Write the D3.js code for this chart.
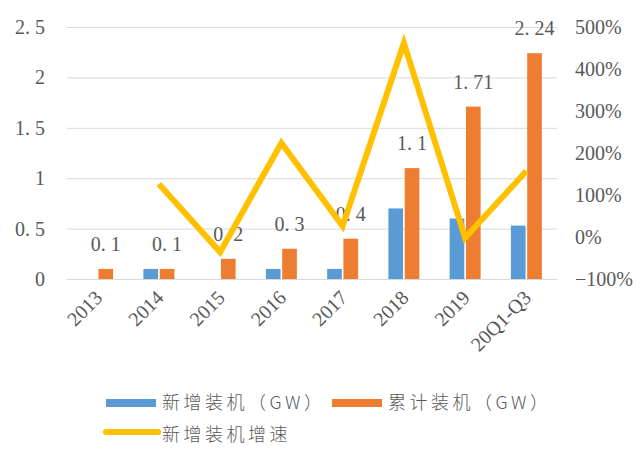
<!DOCTYPE html>
<html><head><meta charset="utf-8">
<script src="https://cdn.jsdelivr.net/npm/d3@7"></script>
<style>body{margin:0;background:#fff}svg{display:block}</style>
</head><body>
<svg id="c" width="640" height="462"></svg>
<script>
const categories = ["2013","2014","2015","2016","2017","2018","2019","20Q1-Q3"];
const newInstalled = [0, 0.1, 0, 0.1, 0.1, 0.7, 0.6, 0.53];
const cumInstalled = [0.1, 0.1, 0.2, 0.3, 0.4, 1.1, 1.71, 2.24];
const growth = [null, 1.26, -0.36, 2.24, 0.26, 4.62, -0.02, 1.57];
const leftTicks = [0, 0.5, 1, 1.5, 2, 2.5];
const rightTicks = [-1, 0, 1, 2, 3, 4, 5];
const seriesNames = ["新增装机（GW）", "累计装机（GW）", "新增装机增速"];
const colors = ["#5B9BD5", "#ED7D31", "#FFC000"];

const svg = d3.select("#c");
const X0 = 67, X1 = 557, YT = 27, YB = 279;
const numFont = "'Liberation Serif', 'DejaVu Serif', serif";
const cjkFont = "'Noto Sans CJK SC', sans-serif";
const txt = "#595959";

const x = d3.scaleBand().domain(categories).range([X0, X1]).paddingInner(0.494).paddingOuter(0.247);
const xs = d3.scaleBand().domain([0, 1]).range([0, x.bandwidth()]).paddingInner(0.1);
const yL = d3.scaleLinear().domain([0, 2.5]).range([YB, YT]);
const yR = d3.scaleLinear().domain([-1, 5]).range([YB, YT]);

// gridlines
const grid = svg.append("g").attr("transform", `translate(${X0},0)`)
  .call(d3.axisLeft(yL).tickValues(leftTicks).tickSize(-(X1 - X0)).tickFormat(""));
grid.select(".domain").remove();
grid.selectAll("line").attr("stroke", "#d9d9d9").attr("stroke-width", 1);

const fmtDot = (g, v) => {
  const s = String(v);
  const i = s.indexOf(".");
  if (i < 0) { g.text(s); return; }
  g.text(s.slice(0, i + 1));
  g.append("tspan").attr("dx", 5).text(s.slice(i + 1));
};

// left axis labels
const la = svg.append("g").attr("transform", `translate(${X0},0)`)
  .call(d3.axisLeft(yL).tickValues(leftTicks).tickSize(0).tickPadding(22).tickFormat(""));
la.select(".domain").remove();
la.selectAll(".tick text").each(function(d){ fmtDot(d3.select(this), d); })
  .attr("font-family", numFont).attr("font-size", 20).attr("fill", txt);

// right axis labels
const ra = svg.append("g").attr("transform", `translate(${X1},0)`)
  .call(d3.axisRight(yR).tickValues(rightTicks).tickSize(0).tickPadding(18).tickFormat(d3.format(".0%")));
ra.select(".domain").remove();
ra.selectAll(".tick text").attr("font-family", numFont).attr("font-size", 20).attr("fill", txt);

// x axis labels
const xa = svg.append("g").attr("transform", `translate(0,${YB})`)
  .call(d3.axisBottom(x).tickSize(0).tickPadding(0));
xa.select(".domain").remove();
xa.selectAll(".tick text")
  .attr("font-family", numFont).attr("font-size", 20).attr("fill", txt)
  .attr("text-anchor", "end").attr("dy", 0)
  .attr("transform", "translate(6,20) rotate(-45)");

// bars
const barData = [newInstalled, cumInstalled];
barData.forEach((arr, si) => {
  svg.append("g").selectAll("rect").data(arr).join("rect")
    .attr("x", (d, i) => x(categories[i]) + xs(si))
    .attr("width", xs.bandwidth())
    .attr("y", d => yL(d))
    .attr("height", d => YB - yL(d))
    .attr("fill", colors[si]);
});

// data labels for cumulative
svg.append("g").selectAll("text").data(cumInstalled).join("text")
  .attr("x", (d, i) => x(categories[i]) + xs(1) + xs.bandwidth() / 2)
  .attr("y", d => yL(d) - 18)
  .attr("text-anchor", "middle")
  .attr("font-family", numFont).attr("font-size", 20).attr("fill", txt)
  .each(function(d){ fmtDot(d3.select(this), d); });

// growth line
const line = d3.line()
  .defined(d => d != null)
  .x((d, i) => x(categories[i]) + x.bandwidth() / 2)
  .y(d => yR(d));
svg.append("path").datum(growth)
  .attr("d", line)
  .attr("fill", "none").attr("stroke", colors[2]).attr("stroke-width", 6)
  .attr("stroke-linejoin", "miter");

// legend
const lg = svg.append("g");
const legendItems = [
  {name: seriesNames[0], color: colors[0], type: "rect", x: 106, y: 403},
  {name: seriesNames[1], color: colors[1], type: "rect", x: 332, y: 403},
  {name: seriesNames[2], color: colors[2], type: "line", x: 106, y: 435}
];
legendItems.forEach(it => {
  if (it.type === "rect") {
    lg.append("rect").attr("x", it.x).attr("y", it.y - 4).attr("width", 50).attr("height", 8).attr("fill", it.color);
  } else {
    lg.append("line").attr("x1", it.x).attr("x2", it.x + 52).attr("y1", it.y - 3).attr("y2", it.y - 3)
      .attr("stroke", it.color).attr("stroke-width", 6).attr("stroke-linecap", "round");
  }
  lg.append("text").attr("x", it.x + 56).attr("y", it.y).attr("dy", "0.35em")
    .attr("font-family", cjkFont).attr("font-size", 18).attr("font-weight", 300)
    .attr("letter-spacing", 3.5).attr("fill", txt).text(it.name);
});
</script>
</body></html>
